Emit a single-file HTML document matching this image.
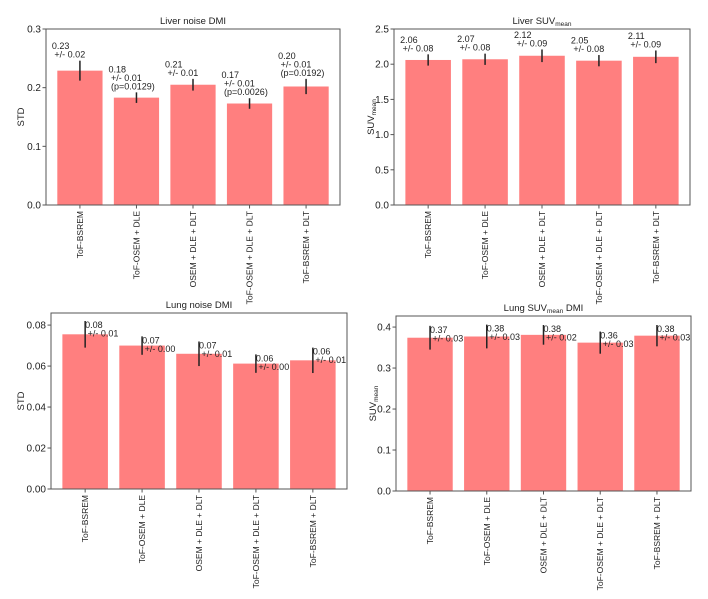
<!DOCTYPE html>
<html><head><meta charset="utf-8"><style>
body{margin:0;background:#fff;}
svg{display:block;font-family:"Liberation Sans","DejaVu Sans",sans-serif;}
</style></head><body>
<svg id="fig" width="708" height="599" viewBox="0 0 708 599" xmlns="http://www.w3.org/2000/svg"></svg>
<script>
const categories = ["ToF-BSREM","ToF-OSEM + DLE","OSEM + DLE + DLT","ToF-OSEM + DLE + DLT","ToF-BSREM + DLT"];
const liverNoiseValues = [0.229,0.183,0.205,0.173,0.202];
const liverNoiseErrors = [0.017,0.009,0.010,0.009,0.013];
const liverNoiseLabels = [["0.23"," +/- 0.02"],["0.18"," +/- 0.01"," (p=0.0129)"],["0.21"," +/- 0.01"],["0.17"," +/- 0.01"," (p=0.0026)"],["0.20"," +/- 0.01"," (p=0.0192)"]];
const liverNoiseTicks = [0,0.1,0.2,0.3];
const liverSuvValues = [2.06,2.07,2.12,2.05,2.105];
const liverSuvErrors = [0.08,0.08,0.09,0.08,0.09];
const liverSuvLabels = [["2.06"," +/- 0.08"],["2.07"," +/- 0.08"],["2.12"," +/- 0.09"],["2.05"," +/- 0.08"],["2.11"," +/- 0.09"]];
const liverSuvTicks = [0,0.5,1.0,1.5,2.0,2.5];
const lungNoiseValues = [0.0755,0.0700,0.0660,0.0612,0.0628];
const lungNoiseErrors = [0.0065,0.0045,0.0060,0.0045,0.0062];
const lungNoiseLabels = [["0.08"," +/- 0.01"],["0.07"," +/- 0.00"],["0.07"," +/- 0.01"],["0.06"," +/- 0.00"],["0.06"," +/- 0.01"]];
const lungNoiseTicks = [0,0.02,0.04,0.06,0.08];
const lungSuvValues = [0.374,0.377,0.381,0.362,0.379];
const lungSuvErrors = [0.029,0.029,0.024,0.027,0.026];
const lungSuvLabels = [["0.37"," +/- 0.03"],["0.38"," +/- 0.03"],["0.38"," +/- 0.02"],["0.36"," +/- 0.03"],["0.38"," +/- 0.03"]];
const lungSuvTicks = [0,0.1,0.2,0.3,0.4];

const NS="http://www.w3.org/2000/svg";
const svg=document.getElementById('fig');
function mk(tag,attrs,parent,text){const e=document.createElementNS(NS,tag);for(const k in attrs)e.setAttribute(k,attrs[k]);if(text!==undefined)e.textContent=text;(parent||svg).appendChild(e);return e;}

function panel(o){
  const g=mk('g',{});
  
  
  const L=o.l,R=o.r,T=o.t,B=o.b;
  const xs=v=>L+(v+0.6)/5.2*(R-L);
  const ys=v=>B-(v-0)/(o.ymax)*(B-T);
  const uw=(R-L)/5.2;
  o.values.forEach((v,i)=>{
    const b=mk('rect',{x:xs(i)-0.4*uw,y:ys(v),width:0.8*uw,height:B-ys(v),fill:'#ff7f7f'},g);
    
    
  });
  o.values.forEach((v,i)=>{
    const e=o.errors[i];
    const eb=mk('line',{x1:xs(i),x2:xs(i),y1:ys(v-e),y2:ys(v+e),stroke:'#222','stroke-width':1.5},g);
    
    
    const lines=o.labels[i];
    const tt=mk('text',{'font-size':9,fill:'#222'},g);
    
    
    let x0,y0;
    if(o.labelMode==='above'){x0=xs(i)-28;y0=ys(v+e)-3-(lines.length-1)*8.5;}
    else{x0=xs(i);y0=ys(v+e)+7;}
    lines.forEach((s,j)=>{mk('tspan',{x:x0,y:y0+j*8.5},tt,s.replace(/ /g,'\u00a0'));});
  });
  const fr=mk('rect',{x:L,y:T,width:R-L,height:B-T,fill:'none',stroke:'#555','stroke-width':1},g);
  
  
  o.ticks.forEach((t,i)=>{
    mk('line',{x1:L-3.5,x2:L,y1:ys(t),y2:ys(t),stroke:'#555'},g);
    const lb=mk('text',{x:L-5,y:ys(t)+3.5,'font-size':10,'text-anchor':'end',fill:'#222'},g,o.tickFmt(t));
    
    
  });
  categories.forEach((c,i)=>{
    mk('line',{x1:xs(i),x2:xs(i),y1:B,y2:B+3.5,stroke:'#555'},g);
    const lb=mk('text',{x:0,y:0,'font-size':8.5,'text-anchor':'end',fill:'#222',transform:`translate(${xs(i)+3},${B+6}) rotate(-90)`},g,c);
    
    
  });
  const ti=mk('text',{x:(L+R)/2,y:T-5,'font-size':9.5,'text-anchor':'middle',fill:'#222'},g);
  
  
  o.title(ti);
  const yl=mk('text',{x:0,y:0,'font-size':9.5,'text-anchor':'middle',fill:'#222',transform:`translate(${o.ylx},${(T+B)/2}) rotate(-90)`},g);
  
  
  o.ylabel(yl);
}
function suvLabel(el,prefix){mk('tspan',{},el,(prefix||'')+'SUV');mk('tspan',{'font-size':6.5,dy:2},el,'mean');}

panel({name:'liver-noise-chart',l:46,r:340,t:29,b:205,ymax:0.3,values:liverNoiseValues,errors:liverNoiseErrors,labels:liverNoiseLabels,ticks:liverNoiseTicks,labelMode:'above',tickFmt:t=>t.toFixed(1),ylx:24,title:e=>e.textContent='Liver noise DMI',ylabel:e=>e.textContent='STD'});
panel({name:'liver-suv-chart',l:394,r:690,t:29,b:205,ymax:2.5,values:liverSuvValues,errors:liverSuvErrors,labels:liverSuvLabels,ticks:liverSuvTicks,labelMode:'above',tickFmt:t=>t.toFixed(1),ylx:374,title:e=>suvLabel(e,'Liver '),ylabel:e=>suvLabel(e,'')});
panel({name:'lung-noise-chart',l:51,r:347,t:313,b:489,ymax:0.0859,values:lungNoiseValues,errors:lungNoiseErrors,labels:lungNoiseLabels,ticks:lungNoiseTicks,labelMode:'right',tickFmt:t=>t.toFixed(2),ylx:24,title:e=>e.textContent='Lung noise DMI',ylabel:e=>e.textContent='STD'});
panel({name:'lung-suv-chart',l:396,r:691,t:316,b:491,ymax:0.427,values:lungSuvValues,errors:lungSuvErrors,labels:lungSuvLabels,ticks:lungSuvTicks,labelMode:'right',tickFmt:t=>t.toFixed(1),ylx:376,title:e=>{mk('tspan',{},e,'Lung SUV');mk('tspan',{'font-size':6.5,dy:2},e,'mean');mk('tspan',{dy:-2},e,' DMI');},ylabel:e=>suvLabel(e,'')});
</script>
</body></html>
